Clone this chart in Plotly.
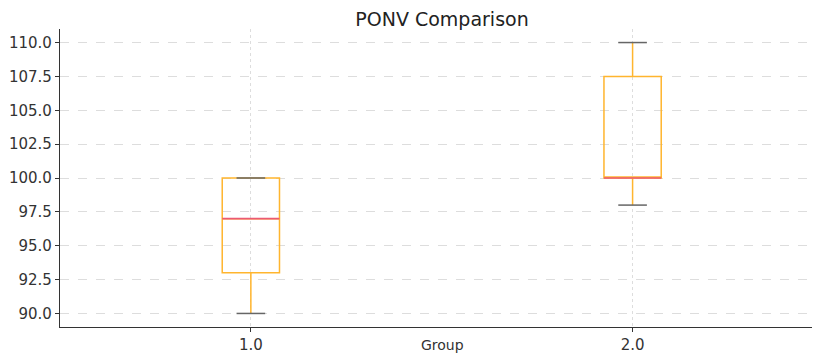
import plotly.graph_objects as go

groups = [1.0, 2.0]
group_labels = ["1.0", "2.0"]
lower = [90.0, 98.0]
q1 = [93.0, 100.0]
median = [97.0, 100.0]
q3 = [100.0, 107.5]
upper = [100.0, 110.0]

y_ticks = [90.0, 92.5, 95.0, 97.5, 100.0, 102.5, 105.0, 107.5, 110.0]

BOX_W = 0.15
CAP_W = BOX_W / 2
ORANGE = "#FFB52E"
RED = "#EC5A72"
CAP = "#666666"
FONT = "DejaVu Sans"

fig = go.Figure()
for i, g in enumerate(groups):
    fig.add_trace(go.Box(
        x=[g], q1=[q1[i]], median=[median[i]], q3=[q3[i]],
        lowerfence=[lower[i]], upperfence=[upper[i]],
        width=BOX_W, whiskerwidth=0, boxpoints=False,
        line=dict(color=ORANGE, width=1.5),
        fillcolor="rgba(0,0,0,0)", showlegend=False, hoverinfo="skip",
    ))
for i, g in enumerate(groups):
    # median line, drawn above the box outline
    fig.add_shape(type="line", xref="x", yref="y", layer="above",
                  x0=g - BOX_W / 2, x1=g + BOX_W / 2, y0=median[i], y1=median[i],
                  line=dict(color=RED, width=1.6))
    # caps
    for v in (lower[i], upper[i]):
        fig.add_trace(go.Scatter(
            x=[g - CAP_W / 2, g + CAP_W / 2], y=[v, v],
            mode="lines", line=dict(color=CAP, width=1.5), showlegend=False, hoverinfo="skip",
        ))

fig.update_layout(
    width=814, height=355,
    margin=dict(l=60, r=2, t=29, b=28, autoexpand=False),
    paper_bgcolor="white", plot_bgcolor="white",
    font=dict(family=FONT, color="#333333", size=15),
    title=dict(text="PONV Comparison", x=0.508, xref="paper", xanchor="center",
               y=1 - 19 / 355, yref="container", yanchor="middle",
               font=dict(size=19, color="#222222")),
    xaxis=dict(
        range=[0.5, 2.47], tickvals=groups, ticktext=group_labels,
        showgrid=True, gridcolor="#DDDDDD", griddash="dot", gridwidth=1,
        showline=True, linecolor="#333333", linewidth=1.2,
        ticks="outside", ticklen=4, tickcolor="#333333",
        zeroline=False, tickfont=dict(size=15), automargin=False,
    ),
    yaxis=dict(
        range=[89.0, 111.0], tickvals=y_ticks, tickformat=".1f",
        showgrid=True, gridcolor="#DDDDDD", griddash="dash", gridwidth=1,
        showline=True, linecolor="#333333", linewidth=1.2,
        ticks="outside", ticklen=4, tickcolor="#333333",
        zeroline=False, tickfont=dict(size=15), automargin=False,
    ),
    annotations=[dict(text="Group", x=0.508, xref="paper", y=-0.094, yref="paper",
                      xanchor="center", yanchor="bottom", showarrow=False,
                      font=dict(size=14, color="#333333"))],
)

fig.write_html("out.html", config={"displayModeBar": False},
               post_script="document.body.style.margin='0';document.body.style.overflow='hidden';")
